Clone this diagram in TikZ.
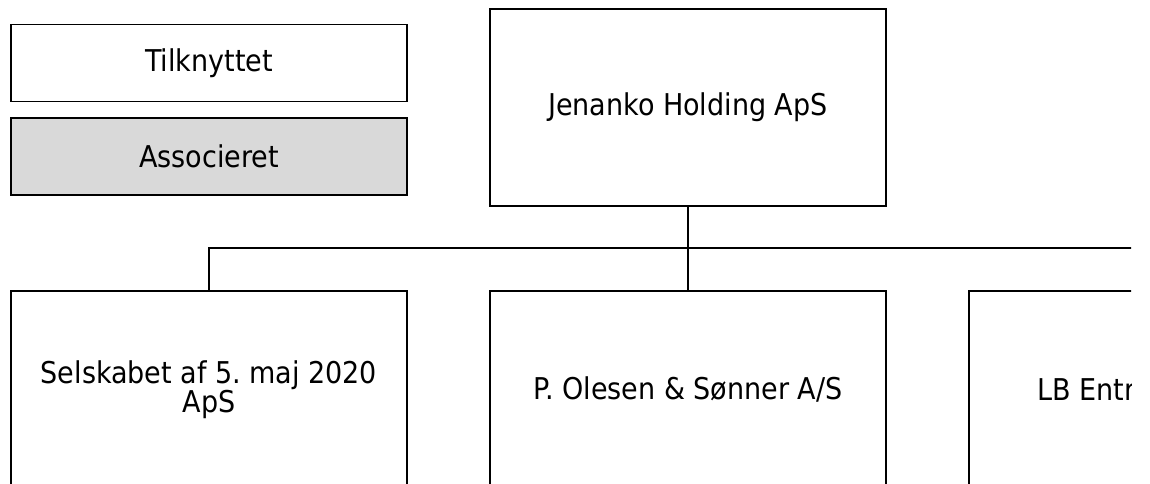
\documentclass[tikz,border=0pt]{standalone}
\usepackage{fontspec}
\setmainfont{DejaVu Sans Condensed}
\frenchspacing
\definecolor{assocgray}{HTML}{D9D9D9}
\tikzset{
  labelfont/.style={font=\fontsize{30}{28}\selectfont},
  orgbox/.style={draw=black, line width=1.8pt, fill=white, minimum width=396pt, minimum height=197pt, inner sep=0pt, align=center, labelfont},
  legendbox/.style={orgbox, minimum height=77pt},
  conn/.style={draw=black, line width=1.8pt}
}
\begin{document}
\begin{tikzpicture}[x=1pt,y=-1pt]
\useasboundingbox[fill=white] (0,0) rectangle (1150,483);
\begin{scope}
\clip (0,0) rectangle (1131,483);
\node[legendbox] (tilk) at (209,63) {Tilknyttet};
\node[legendbox, fill=assocgray] (assoc) at (209,156.5) {Associeret};
\node[orgbox] (jen) at (688,107.5) {Jenanko Holding ApS};
\node[orgbox] (sel) at (209,389.5) {Selskabet af 5. maj 2020\\ApS};
\node[orgbox] (ole) at (688,389.5) {P. Olesen \& Sønner A/S};
\node[orgbox] (lb) at (1167,389.5) {};
\node[anchor=west, inner sep=0pt, labelfont] (lbtext) at (1037,389.5) {LB Entr};
\coordinate (bus) at (688,248);
\draw[conn] (jen.south) -- (ole.north);
\draw[conn] (sel.north) |- (bus) -| (lb.north);
\end{scope}
\end{tikzpicture}
\end{document}
